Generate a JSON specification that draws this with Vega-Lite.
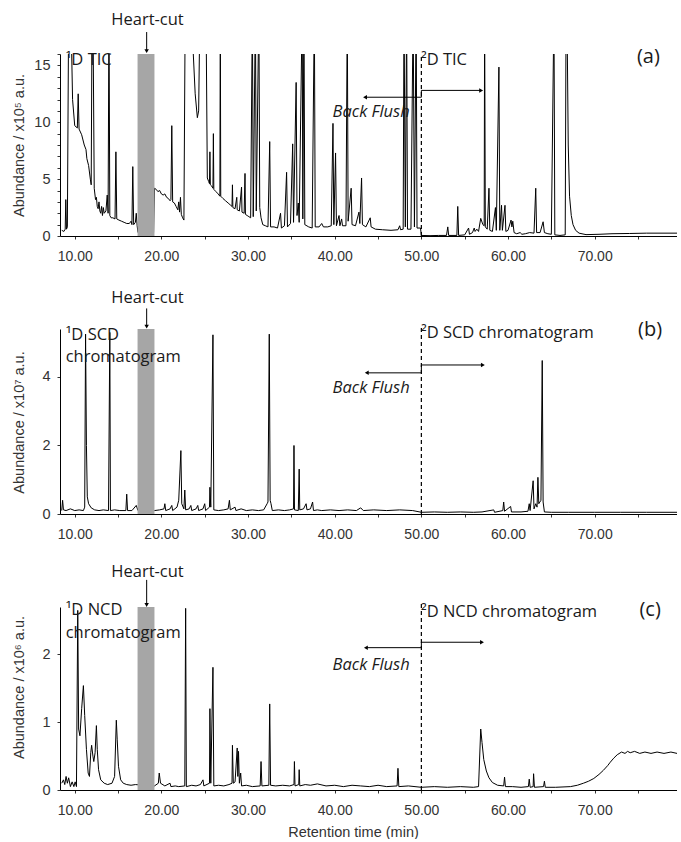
{
  "$schema": "https://vega.github.io/schema/vega-lite/v6.json",
  "background": "white",
  "padding": {"left": 11, "top": 11, "right": 0, "bottom": 0},
  "autosize": {"type": "pad"},
  "config": {
    "view": {"stroke": null},
    "axis": {"grid": false, "domainColor": "#000", "tickColor": "#333", "labelFont": "Liberation Sans", "titleFont": "Liberation Sans", "labelColor": "#333", "titleColor": "#333", "titleFontWeight": "normal", "titleFontSize": 14.5},
    "text": {"font": "Open Sans", "fontSize": 16.5, "color": "#1a1a1a"}
  },
  "spacing": 93,
  "bounds": "flush",
  "resolve": {"scale": {"x": "independent", "y": "independent"}},
  "datasets": {
    "a": [{"t":8.5,"v":0.5},{"t":8.75,"v":0.4},{"t":8.9,"v":0.6},{"t":8.97,"v":3.2},{"t":9.05,"v":0.6},{"t":9.15,"v":0.8},{"t":9.3,"v":20},{"t":9.55,"v":20},{"t":9.75,"v":12},{"t":10.0,"v":9.7},{"t":10.3,"v":9.5},{"t":10.4,"v":12.5},{"t":10.5,"v":9.4},{"t":10.8,"v":8.9},{"t":11.1,"v":8.0},{"t":11.3,"v":7.6},{"t":11.4,"v":6.8},{"t":11.6,"v":6.2},{"t":11.8,"v":5.0},{"t":11.9,"v":4.5},{"t":12.0,"v":20},{"t":12.1,"v":20},{"t":12.25,"v":4.2},{"t":12.4,"v":3.2},{"t":12.5,"v":3.4},{"t":12.6,"v":2.6},{"t":12.7,"v":2.4},{"t":12.8,"v":3.0},{"t":12.9,"v":2.2},{"t":13.0,"v":2.0},{"t":13.1,"v":2.6},{"t":13.2,"v":1.8},{"t":13.3,"v":2.5},{"t":13.4,"v":2.0},{"t":13.6,"v":2.2},{"t":13.75,"v":3.6},{"t":13.85,"v":2.0},{"t":13.95,"v":20},{"t":14.05,"v":1.8},{"t":14.2,"v":1.6},{"t":14.4,"v":1.6},{"t":14.65,"v":1.5},{"t":14.75,"v":7.4},{"t":14.85,"v":1.5},{"t":15.1,"v":1.4},{"t":15.4,"v":1.3},{"t":15.7,"v":1.2},{"t":16.0,"v":1.1},{"t":16.3,"v":1.1},{"t":16.5,"v":1.3},{"t":16.6,"v":1.0},{"t":16.7,"v":6.1},{"t":16.8,"v":1.0},{"t":17.0,"v":1.2},{"t":17.1,"v":2.0},{"t":17.2,"v":0.9},{"t":17.3,"v":0.3},{"t":19.1,"v":0.3},{"t":19.2,"v":4.2},{"t":19.4,"v":4.1},{"t":19.6,"v":3.9},{"t":19.8,"v":4.0},{"t":20.0,"v":3.7},{"t":20.2,"v":3.6},{"t":20.4,"v":3.7},{"t":20.6,"v":3.4},{"t":20.8,"v":3.3},{"t":21.0,"v":3.1},{"t":21.1,"v":3.2},{"t":21.2,"v":9.7},{"t":21.3,"v":3.0},{"t":21.5,"v":2.9},{"t":21.7,"v":2.6},{"t":21.9,"v":2.3},{"t":22.0,"v":3.0},{"t":22.1,"v":2.1},{"t":22.2,"v":3.4},{"t":22.3,"v":1.9},{"t":22.45,"v":1.6},{"t":22.6,"v":1.4},{"t":22.75,"v":20},{"t":23.5,"v":20},{"t":23.65,"v":16.5},{"t":23.9,"v":12.5},{"t":24.15,"v":10.4},{"t":24.3,"v":11},{"t":24.45,"v":20},{"t":25.15,"v":20},{"t":25.3,"v":5.1},{"t":25.45,"v":4.8},{"t":25.55,"v":4.6},{"t":25.6,"v":7.4},{"t":25.65,"v":4.5},{"t":25.8,"v":4.4},{"t":25.95,"v":4.2},{"t":26.0,"v":9.0},{"t":26.05,"v":4.1},{"t":26.3,"v":3.9},{"t":26.55,"v":3.7},{"t":26.75,"v":3.5},{"t":26.8,"v":20},{"t":26.85,"v":3.5},{"t":27.1,"v":3.3},{"t":27.4,"v":3.1},{"t":27.7,"v":2.9},{"t":28.0,"v":2.7},{"t":28.15,"v":2.6},{"t":28.2,"v":4.5},{"t":28.25,"v":2.5},{"t":28.5,"v":2.4},{"t":28.7,"v":3.4},{"t":28.75,"v":2.3},{"t":29.0,"v":2.2},{"t":29.25,"v":4.3},{"t":29.3,"v":2.1},{"t":29.55,"v":2.0},{"t":29.65,"v":5.5},{"t":29.7,"v":1.9},{"t":29.9,"v":1.8},{"t":30.1,"v":1.7},{"t":30.3,"v":1.6},{"t":30.5,"v":20},{"t":30.6,"v":1.7},{"t":30.85,"v":20},{"t":30.95,"v":2.2},{"t":31.25,"v":20},{"t":31.35,"v":2.5},{"t":31.5,"v":1.6},{"t":31.7,"v":1.0},{"t":32.0,"v":0.9},{"t":32.3,"v":0.8},{"t":32.5,"v":8.3},{"t":32.6,"v":0.8},{"t":33.0,"v":0.8},{"t":33.4,"v":0.7},{"t":33.75,"v":2.0},{"t":33.85,"v":0.7},{"t":34.2,"v":0.9},{"t":34.45,"v":5.6},{"t":34.55,"v":0.8},{"t":34.9,"v":1.1},{"t":35.15,"v":8.1},{"t":35.25,"v":1.2},{"t":35.55,"v":13.5},{"t":35.65,"v":1.8},{"t":35.8,"v":2.9},{"t":35.9,"v":1.2},{"t":36.25,"v":20},{"t":36.32,"v":1.5},{"t":36.45,"v":20},{"t":36.55,"v":1.0},{"t":37.0,"v":0.8},{"t":37.4,"v":0.7},{"t":37.65,"v":20},{"t":37.75,"v":0.8},{"t":38.2,"v":0.8},{"t":38.5,"v":1.1},{"t":38.7,"v":0.8},{"t":39.2,"v":0.8},{"t":39.6,"v":0.9},{"t":39.8,"v":9.9},{"t":39.9,"v":1.0},{"t":40.1,"v":7.3},{"t":40.2,"v":0.9},{"t":40.5,"v":1.8},{"t":40.6,"v":0.9},{"t":40.8,"v":1.5},{"t":40.9,"v":0.9},{"t":41.3,"v":0.9},{"t":41.45,"v":20},{"t":41.55,"v":1.3},{"t":41.9,"v":4.2},{"t":42.0,"v":1.0},{"t":42.4,"v":0.9},{"t":42.8,"v":2.1},{"t":42.9,"v":1.1},{"t":43.1,"v":5.1},{"t":43.2,"v":1.0},{"t":43.6,"v":0.8},{"t":44.1,"v":1.6},{"t":44.2,"v":0.8},{"t":44.7,"v":0.6},{"t":45.5,"v":0.55},{"t":46.5,"v":0.5},{"t":47.3,"v":0.55},{"t":47.5,"v":0.9},{"t":47.6,"v":0.55},{"t":47.9,"v":0.6},{"t":48.0,"v":20},{"t":48.15,"v":0.8},{"t":48.3,"v":20},{"t":48.4,"v":0.6},{"t":48.8,"v":0.6},{"t":49.05,"v":20},{"t":49.2,"v":0.8},{"t":49.4,"v":20},{"t":49.5,"v":0.7},{"t":49.9,"v":0.7},{"t":50.0,"v":0.05},{"t":51.0,"v":0.03},{"t":52.0,"v":0.05},{"t":52.9,"v":0.05},{"t":53.05,"v":0.8},{"t":53.15,"v":0.05},{"t":54.1,"v":0.05},{"t":54.2,"v":2.6},{"t":54.3,"v":0.05},{"t":55.0,"v":0.1},{"t":55.45,"v":0.7},{"t":55.55,"v":0.15},{"t":55.9,"v":0.3},{"t":56.1,"v":0.7},{"t":56.2,"v":0.4},{"t":56.4,"v":0.6},{"t":56.6,"v":0.4},{"t":56.85,"v":1.55},{"t":57.1,"v":1.0},{"t":57.25,"v":0.9},{"t":57.3,"v":20},{"t":57.38,"v":0.8},{"t":57.6,"v":0.6},{"t":57.8,"v":4.2},{"t":57.9,"v":0.5},{"t":58.2,"v":0.4},{"t":58.55,"v":2.5},{"t":58.65,"v":0.5},{"t":58.95,"v":14.85},{"t":59.05,"v":0.5},{"t":59.25,"v":2.7},{"t":59.35,"v":0.5},{"t":59.65,"v":2.7},{"t":59.75,"v":0.4},{"t":60.0,"v":0.5},{"t":60.35,"v":1.4},{"t":60.45,"v":0.8},{"t":60.55,"v":1.3},{"t":60.7,"v":0.3},{"t":61.0,"v":0.2},{"t":61.4,"v":0.3},{"t":61.6,"v":0.15},{"t":62.0,"v":0.2},{"t":62.5,"v":0.3},{"t":63.0,"v":0.25},{"t":63.2,"v":4.2},{"t":63.3,"v":0.3},{"t":63.7,"v":0.3},{"t":64.05,"v":1.25},{"t":64.2,"v":0.3},{"t":64.6,"v":0.2},{"t":65.0,"v":0.15},{"t":65.3,"v":20},{"t":65.4,"v":0.1},{"t":66.0,"v":0.05},{"t":66.6,"v":0.1},{"t":66.7,"v":20},{"t":66.8,"v":20},{"t":66.95,"v":8},{"t":67.1,"v":3.5},{"t":67.3,"v":1.8},{"t":67.5,"v":1.0},{"t":67.8,"v":0.5},{"t":68.2,"v":0.25},{"t":69.0,"v":0.12},{"t":70.5,"v":0.15},{"t":72.0,"v":0.2},{"t":74.0,"v":0.22},{"t":76.0,"v":0.25},{"t":79.5,"v":0.25}],
    "b": [{"t":8.5,"v":0.1},{"t":8.6,"v":0.4},{"t":8.7,"v":0.12},{"t":9.0,"v":0.1},{"t":9.5,"v":0.15},{"t":10.0,"v":0.1},{"t":10.5,"v":0.12},{"t":11.0,"v":0.1},{"t":11.15,"v":0.2},{"t":11.25,"v":5.25},{"t":11.35,"v":2.0},{"t":11.45,"v":0.5},{"t":11.6,"v":0.3},{"t":11.9,"v":0.18},{"t":12.3,"v":0.12},{"t":12.8,"v":0.1},{"t":13.3,"v":0.12},{"t":13.9,"v":0.1},{"t":14.05,"v":5.3},{"t":14.12,"v":0.1},{"t":14.6,"v":0.12},{"t":15.2,"v":0.1},{"t":15.9,"v":0.1},{"t":16.0,"v":0.58},{"t":16.1,"v":0.1},{"t":16.6,"v":0.1},{"t":17.1,"v":0.25},{"t":17.3,"v":0.1},{"t":19.2,"v":0.1},{"t":19.8,"v":0.12},{"t":20.3,"v":0.15},{"t":20.4,"v":0.3},{"t":20.5,"v":0.1},{"t":21.0,"v":0.15},{"t":21.2,"v":0.25},{"t":21.3,"v":0.1},{"t":21.8,"v":0.2},{"t":22.0,"v":0.4},{"t":22.25,"v":1.85},{"t":22.35,"v":0.3},{"t":22.6,"v":0.15},{"t":22.7,"v":0.7},{"t":22.8,"v":0.12},{"t":23.2,"v":0.15},{"t":23.4,"v":0.25},{"t":23.5,"v":0.1},{"t":24.0,"v":0.15},{"t":24.2,"v":0.25},{"t":24.3,"v":0.1},{"t":24.8,"v":0.15},{"t":25.0,"v":0.3},{"t":25.1,"v":0.1},{"t":25.55,"v":0.2},{"t":25.6,"v":0.78},{"t":25.7,"v":0.2},{"t":25.95,"v":5.23},{"t":26.05,"v":0.12},{"t":26.6,"v":0.1},{"t":27.2,"v":0.12},{"t":27.7,"v":0.15},{"t":27.85,"v":0.4},{"t":27.95,"v":0.12},{"t":28.5,"v":0.2},{"t":28.6,"v":0.1},{"t":29.2,"v":0.15},{"t":29.8,"v":0.1},{"t":30.5,"v":0.12},{"t":31.2,"v":0.1},{"t":31.8,"v":0.12},{"t":32.2,"v":0.3},{"t":32.3,"v":0.35},{"t":32.45,"v":5.25},{"t":32.55,"v":0.4},{"t":32.65,"v":0.3},{"t":32.8,"v":0.1},{"t":33.5,"v":0.12},{"t":34.2,"v":0.1},{"t":34.8,"v":0.12},{"t":35.25,"v":0.15},{"t":35.3,"v":2.0},{"t":35.36,"v":0.12},{"t":35.8,"v":0.1},{"t":35.9,"v":1.31},{"t":35.97,"v":0.12},{"t":36.4,"v":0.15},{"t":36.7,"v":0.3},{"t":36.8,"v":0.12},{"t":37.2,"v":0.15},{"t":37.45,"v":0.35},{"t":37.55,"v":0.1},{"t":38.0,"v":0.12},{"t":38.5,"v":0.1},{"t":39.5,"v":0.12},{"t":40.5,"v":0.1},{"t":41.5,"v":0.12},{"t":42.5,"v":0.1},{"t":43.0,"v":0.18},{"t":43.3,"v":0.1},{"t":44.5,"v":0.12},{"t":46.0,"v":0.1},{"t":47.5,"v":0.12},{"t":49.0,"v":0.1},{"t":50.0,"v":0.05},{"t":51.5,"v":0.06},{"t":53.0,"v":0.05},{"t":54.5,"v":0.06},{"t":56.0,"v":0.05},{"t":57.0,"v":0.06},{"t":58.35,"v":0.12},{"t":58.45,"v":0.05},{"t":59.4,"v":0.1},{"t":59.5,"v":0.35},{"t":59.6,"v":0.08},{"t":60.3,"v":0.22},{"t":60.4,"v":0.06},{"t":61.5,"v":0.06},{"t":62.3,"v":0.08},{"t":62.45,"v":0.3},{"t":62.55,"v":0.1},{"t":62.9,"v":0.97},{"t":63.0,"v":0.15},{"t":63.2,"v":0.3},{"t":63.35,"v":0.2},{"t":63.45,"v":1.07},{"t":63.55,"v":0.3},{"t":63.8,"v":0.4},{"t":63.95,"v":4.48},{"t":64.05,"v":0.35},{"t":64.2,"v":0.06},{"t":65.0,"v":0.05},{"t":67.0,"v":0.05},{"t":70.0,"v":0.05},{"t":73.0,"v":0.05},{"t":76.0,"v":0.05},{"t":79.5,"v":0.05}],
    "c": [{"t":8.5,"v":0.1},{"t":8.7,"v":0.15},{"t":8.85,"v":0.08},{"t":9.0,"v":0.2},{"t":9.15,"v":0.1},{"t":9.3,"v":0.18},{"t":9.5,"v":0.05},{"t":9.7,"v":0.12},{"t":9.9,"v":0.05},{"t":10.05,"v":0.12},{"t":10.2,"v":0.05},{"t":10.35,"v":2.65},{"t":10.45,"v":0.9},{"t":10.6,"v":0.8},{"t":10.8,"v":1.2},{"t":11.0,"v":1.54},{"t":11.15,"v":1.1},{"t":11.35,"v":0.6},{"t":11.55,"v":0.25},{"t":11.7,"v":0.2},{"t":11.85,"v":0.55},{"t":11.95,"v":0.66},{"t":12.1,"v":0.5},{"t":12.2,"v":0.42},{"t":12.35,"v":0.55},{"t":12.5,"v":0.95},{"t":12.6,"v":0.6},{"t":12.75,"v":0.3},{"t":13.0,"v":0.15},{"t":13.4,"v":0.1},{"t":13.8,"v":0.08},{"t":14.3,"v":0.1},{"t":14.6,"v":0.2},{"t":14.8,"v":1.03},{"t":14.9,"v":0.75},{"t":15.05,"v":0.35},{"t":15.3,"v":0.15},{"t":15.6,"v":0.1},{"t":16.0,"v":0.08},{"t":16.5,"v":0.07},{"t":17.0,"v":0.08},{"t":19.2,"v":0.06},{"t":19.65,"v":0.1},{"t":19.75,"v":0.25},{"t":19.9,"v":0.1},{"t":20.4,"v":0.06},{"t":21.0,"v":0.1},{"t":21.1,"v":0.05},{"t":21.6,"v":0.06},{"t":22.0,"v":0.05},{"t":22.7,"v":0.06},{"t":22.8,"v":2.68},{"t":22.88,"v":0.05},{"t":23.5,"v":0.07},{"t":24.0,"v":0.06},{"t":24.5,"v":0.08},{"t":24.8,"v":0.15},{"t":24.9,"v":0.06},{"t":25.55,"v":0.1},{"t":25.6,"v":1.2},{"t":25.7,"v":0.1},{"t":25.95,"v":1.81},{"t":26.05,"v":0.06},{"t":26.6,"v":0.07},{"t":27.2,"v":0.06},{"t":27.8,"v":0.08},{"t":28.15,"v":0.1},{"t":28.2,"v":0.66},{"t":28.3,"v":0.1},{"t":28.5,"v":0.12},{"t":28.75,"v":0.62},{"t":28.82,"v":0.2},{"t":28.9,"v":0.57},{"t":29.0,"v":0.1},{"t":29.15,"v":0.25},{"t":29.25,"v":0.06},{"t":29.8,"v":0.07},{"t":30.5,"v":0.05},{"t":31.4,"v":0.06},{"t":31.5,"v":0.42},{"t":31.6,"v":0.06},{"t":32.4,"v":0.07},{"t":32.5,"v":1.27},{"t":32.6,"v":0.07},{"t":33.2,"v":0.06},{"t":34.0,"v":0.07},{"t":34.8,"v":0.06},{"t":35.3,"v":0.08},{"t":35.35,"v":0.42},{"t":35.42,"v":0.06},{"t":35.85,"v":0.08},{"t":35.9,"v":0.3},{"t":35.97,"v":0.06},{"t":36.6,"v":0.08},{"t":37.2,"v":0.07},{"t":38.0,"v":0.09},{"t":39.0,"v":0.06},{"t":40.0,"v":0.07},{"t":41.0,"v":0.05},{"t":42.0,"v":0.07},{"t":43.0,"v":0.06},{"t":44.0,"v":0.05},{"t":45.0,"v":0.07},{"t":46.0,"v":0.05},{"t":47.2,"v":0.06},{"t":47.3,"v":0.32},{"t":47.4,"v":0.05},{"t":48.5,"v":0.06},{"t":50.0,"v":0.04},{"t":51.5,"v":0.05},{"t":53.0,"v":0.04},{"t":54.5,"v":0.05},{"t":56.0,"v":0.04},{"t":56.6,"v":0.05},{"t":56.85,"v":0.9},{"t":57.0,"v":0.7},{"t":57.2,"v":0.45},{"t":57.5,"v":0.28},{"t":57.8,"v":0.18},{"t":58.2,"v":0.11},{"t":58.8,"v":0.07},{"t":59.5,"v":0.06},{"t":59.6,"v":0.19},{"t":59.7,"v":0.05},{"t":60.5,"v":0.05},{"t":61.5,"v":0.04},{"t":62.35,"v":0.05},{"t":62.45,"v":0.16},{"t":62.55,"v":0.04},{"t":62.9,"v":0.05},{"t":62.95,"v":0.24},{"t":63.05,"v":0.04},{"t":64.1,"v":0.05},{"t":64.2,"v":0.13},{"t":64.3,"v":0.04},{"t":65.5,"v":0.04},{"t":67.2,"v":0.05},{"t":68.0,"v":0.07},{"t":68.7,"v":0.1},{"t":69.3,"v":0.13},{"t":69.9,"v":0.17},{"t":70.5,"v":0.23},{"t":71.0,"v":0.29},{"t":71.5,"v":0.36},{"t":71.8,"v":0.41},{"t":72.2,"v":0.47},{"t":72.6,"v":0.52},{"t":73.1,"v":0.56},{"t":73.5,"v":0.54},{"t":73.8,"v":0.57},{"t":74.1,"v":0.55},{"t":74.6,"v":0.57},{"t":75.2,"v":0.54},{"t":75.8,"v":0.56},{"t":76.5,"v":0.54},{"t":77.2,"v":0.56},{"t":78.0,"v":0.54},{"t":78.8,"v":0.56},{"t":79.5,"v":0.54}]
  },
  "vconcat": [
    {
      "width": 617, "height": 182,
      "encoding": {
        "x": {"field": "t", "type": "quantitative", "scale": {"domain": [8.3, 79.5], "nice": false, "zero": false},
              "axis": {"title": null, "values": [10,15,20,25,30,35,40,45,50,55,60,65,70,75], "labelExpr": "datum.value % 10 === 0 ? format(datum.value, '.2f') : ''", "labelFontSize": 14, "tickSize": 3, "labelPadding": 10, "labelFlush": false}},
        "y": {"field": "v", "type": "quantitative", "scale": {"domain": [0, 16], "nice": false},
              "axis": {"title": "Abundance / x10⁵  a.u.", "values": [0,1,2,3,4,5,6,7,8,9,10,11,12,13,14,15,16], "labelExpr": "datum.value % 5 === 0 ? datum.value : ''", "labelFontSize": 14.5, "tickSize": 3, "labelPadding": 7, "titleX": -37, "titleY": 91, "titleAlign": "center", "titleBaseline": "alphabetic"}}
      },
      "layer": [
        {"data": {"name": "a"}, "mark": {"type": "line", "color": "black", "strokeWidth": 1, "clip": true}},
        {"data": {"values": [{"t": 17.25, "t2": 19.2, "v": 0, "v2": 16}]}, "mark": {"type": "rect", "color": "#a6a6a6"}, "encoding": {"x2": {"field": "t2"}, "y2": {"field": "v2"}}},
        {"data": {"values": [{"t": 50, "v": 0, "v2": 16}]}, "mark": {"type": "rule", "color": "black", "strokeWidth": 1.2, "strokeDash": [4, 3]}, "encoding": {"y2": {"field": "v2"}}},
        {"data": {"values": [{"t": 18.3, "v": 17.93, "v2": 16.3}]}, "mark": {"type": "rule", "color": "black", "strokeWidth": 1}, "encoding": {"y2": {"field": "v2"}}},
        {"data": {"values": [{"o": 1, "t": 43.5, "v": 12.2}, {"o": 2, "t": 50, "v": 12.2}, {"o": 3, "t": 50, "v": 12.8}, {"o": 4, "t": 56.9, "v": 12.8}]}, "mark": {"type": "line", "color": "black", "strokeWidth": 1}, "encoding": {"order": {"field": "o", "type": "quantitative"}}},
        {"data": {"values": [{"t": 43.5, "v": 12.2, "s": "triangle-left"}, {"t": 56.9, "v": 12.8, "s": "triangle-right"}, {"t": 18.3, "v": 16.25, "s": "triangle-down"}]}, "mark": {"type": "point", "filled": true, "color": "black", "size": 20, "opacity": 1}, "encoding": {"shape": {"field": "s", "type": "nominal", "scale": null}}},
        {"data": {"values": [{"t": 8.95, "v": 15.45, "label": "¹D TIC"}, {"t": 49.95, "v": 15.45, "label": "²D TIC"}]}, "mark": {"type": "text", "align": "left", "baseline": "middle"}, "encoding": {"text": {"field": "label"}}},
        {"data": {"values": [{"t": 18.4, "v": 19.0, "label": "Heart-cut"}]}, "mark": {"type": "text", "align": "center", "baseline": "middle"}, "encoding": {"text": {"field": "label"}}},
        {"data": {"values": [{"t": 44.2, "v": 10.9, "label": "Back Flush"}]}, "mark": {"type": "text", "align": "center", "baseline": "middle", "fontStyle": "italic"}, "encoding": {"text": {"field": "label"}}},
        {"data": {"values": [{"t": 76.2, "v": 15.7, "label": "(a)"}]}, "mark": {"type": "text", "align": "center", "baseline": "middle", "fontSize": 20}, "encoding": {"text": {"field": "label"}}}
      ]
    },
    {
      "width": 617, "height": 185,
      "encoding": {
        "x": {"field": "t", "type": "quantitative", "scale": {"domain": [8.3, 79.5], "nice": false, "zero": false},
              "axis": {"title": null, "values": [10,15,20,25,30,35,40,45,50,55,60,65,70,75], "labelExpr": "datum.value % 10 === 0 ? format(datum.value, '.2f') : ''", "labelFontSize": 14, "tickSize": 3, "labelPadding": 10, "labelFlush": false}},
        "y": {"field": "v", "type": "quantitative", "scale": {"domain": [0, 5.4], "nice": false},
              "axis": {"title": "Abundance / x10⁷  a.u.", "values": [0,2,4], "labelFontSize": 14.5, "tickSize": 3, "labelPadding": 7, "titleX": -37, "titleY": 93, "titleAlign": "center", "titleBaseline": "alphabetic"}}
      },
      "layer": [
        {"data": {"name": "b"}, "mark": {"type": "line", "color": "black", "strokeWidth": 1, "clip": true}},
        {"data": {"values": [{"t": 17.25, "t2": 19.2, "v": 0, "v2": 5.4}]}, "mark": {"type": "rect", "color": "#a6a6a6"}, "encoding": {"x2": {"field": "t2"}, "y2": {"field": "v2"}}},
        {"data": {"values": [{"t": 50, "v": 0, "v2": 5.5}]}, "mark": {"type": "rule", "color": "black", "strokeWidth": 1.2, "strokeDash": [4, 3]}, "encoding": {"y2": {"field": "v2"}}},
        {"data": {"values": [{"t": 18.3, "v": 6.0, "v2": 5.5}]}, "mark": {"type": "rule", "color": "black", "strokeWidth": 1}, "encoding": {"y2": {"field": "v2"}}},
        {"data": {"values": [{"o": 1, "t": 43.7, "v": 4.12}, {"o": 2, "t": 50, "v": 4.12}, {"o": 3, "t": 50, "v": 4.35}, {"o": 4, "t": 57.1, "v": 4.35}]}, "mark": {"type": "line", "color": "black", "strokeWidth": 1}, "encoding": {"order": {"field": "o", "type": "quantitative"}}},
        {"data": {"values": [{"t": 43.7, "v": 4.12, "s": "triangle-left"}, {"t": 57.1, "v": 4.35, "s": "triangle-right"}, {"t": 18.3, "v": 5.47, "s": "triangle-down"}]}, "mark": {"type": "point", "filled": true, "color": "black", "size": 20, "opacity": 1}, "encoding": {"shape": {"field": "s", "type": "nominal", "scale": null}}},
        {"data": {"values": [{"t": 8.95, "v": 5.22, "label": "¹D SCD"}, {"t": 8.95, "v": 4.57, "label": "chromatogram"}, {"t": 49.95, "v": 5.28, "label": "²D SCD chromatogram"}]}, "mark": {"type": "text", "align": "left", "baseline": "middle"}, "encoding": {"text": {"field": "label"}}},
        {"data": {"values": [{"t": 18.4, "v": 6.3, "label": "Heart-cut"}]}, "mark": {"type": "text", "align": "center", "baseline": "middle"}, "encoding": {"text": {"field": "label"}}},
        {"data": {"values": [{"t": 44.2, "v": 3.68, "label": "Back Flush"}]}, "mark": {"type": "text", "align": "center", "baseline": "middle", "fontStyle": "italic"}, "encoding": {"text": {"field": "label"}}},
        {"data": {"values": [{"t": 76.4, "v": 5.37, "label": "(b)"}]}, "mark": {"type": "text", "align": "center", "baseline": "middle", "fontSize": 20}, "encoding": {"text": {"field": "label"}}}
      ]
    },
    {
      "width": 617, "height": 183,
      "encoding": {
        "x": {"field": "t", "type": "quantitative", "scale": {"domain": [8.3, 79.5], "nice": false, "zero": false},
              "axis": {"title": "Retention time (min)", "titleX": 293, "titleY": 42, "titleBaseline": "middle", "values": [10,15,20,25,30,35,40,45,50,55,60,65,70,75], "labelExpr": "datum.value % 10 === 0 ? format(datum.value, '.2f') : ''", "labelFontSize": 14, "tickSize": 3, "labelPadding": 10, "labelFlush": false}},
        "y": {"field": "v", "type": "quantitative", "scale": {"domain": [0, 2.7], "nice": false},
              "axis": {"title": "Abundance / x10⁶  a.u.", "values": [0,1,2], "labelFontSize": 14.5, "tickSize": 3, "labelPadding": 7, "titleX": -37, "titleY": 80, "titleAlign": "center", "titleBaseline": "alphabetic"}}
      },
      "layer": [
        {"data": {"name": "c"}, "mark": {"type": "line", "color": "black", "strokeWidth": 1, "clip": true}},
        {"data": {"values": [{"t": 17.25, "t2": 19.2, "v": 0, "v2": 2.7}]}, "mark": {"type": "rect", "color": "#a6a6a6"}, "encoding": {"x2": {"field": "t2"}, "y2": {"field": "v2"}}},
        {"data": {"values": [{"t": 50, "v": 0, "v2": 2.75}]}, "mark": {"type": "rule", "color": "black", "strokeWidth": 1.2, "strokeDash": [4, 3]}, "encoding": {"y2": {"field": "v2"}}},
        {"data": {"values": [{"t": 18.3, "v": 3.1, "v2": 2.75}]}, "mark": {"type": "rule", "color": "black", "strokeWidth": 1}, "encoding": {"y2": {"field": "v2"}}},
        {"data": {"values": [{"o": 1, "t": 43.6, "v": 2.1}, {"o": 2, "t": 50, "v": 2.1}, {"o": 3, "t": 50, "v": 2.18}, {"o": 4, "t": 57.0, "v": 2.18}]}, "mark": {"type": "line", "color": "black", "strokeWidth": 1}, "encoding": {"order": {"field": "o", "type": "quantitative"}}},
        {"data": {"values": [{"t": 43.6, "v": 2.1, "s": "triangle-left"}, {"t": 57.0, "v": 2.18, "s": "triangle-right"}, {"t": 18.3, "v": 2.73, "s": "triangle-down"}]}, "mark": {"type": "point", "filled": true, "color": "black", "size": 20, "opacity": 1}, "encoding": {"shape": {"field": "s", "type": "nominal", "scale": null}}},
        {"data": {"values": [{"t": 8.95, "v": 2.65, "label": "¹D NCD"}, {"t": 8.95, "v": 2.32, "label": "chromatogram"}, {"t": 49.95, "v": 2.63, "label": "²D NCD chromatogram"}]}, "mark": {"type": "text", "align": "left", "baseline": "middle"}, "encoding": {"text": {"field": "label"}}},
        {"data": {"values": [{"t": 18.4, "v": 3.22, "label": "Heart-cut"}]}, "mark": {"type": "text", "align": "center", "baseline": "middle"}, "encoding": {"text": {"field": "label"}}},
        {"data": {"values": [{"t": 44.2, "v": 1.84, "label": "Back Flush"}]}, "mark": {"type": "text", "align": "center", "baseline": "middle", "fontStyle": "italic"}, "encoding": {"text": {"field": "label"}}},
        {"data": {"values": [{"t": 76.4, "v": 2.66, "label": "(c)"}]}, "mark": {"type": "text", "align": "center", "baseline": "middle", "fontSize": 20}, "encoding": {"text": {"field": "label"}}}
      ]
    }
  ]
}
